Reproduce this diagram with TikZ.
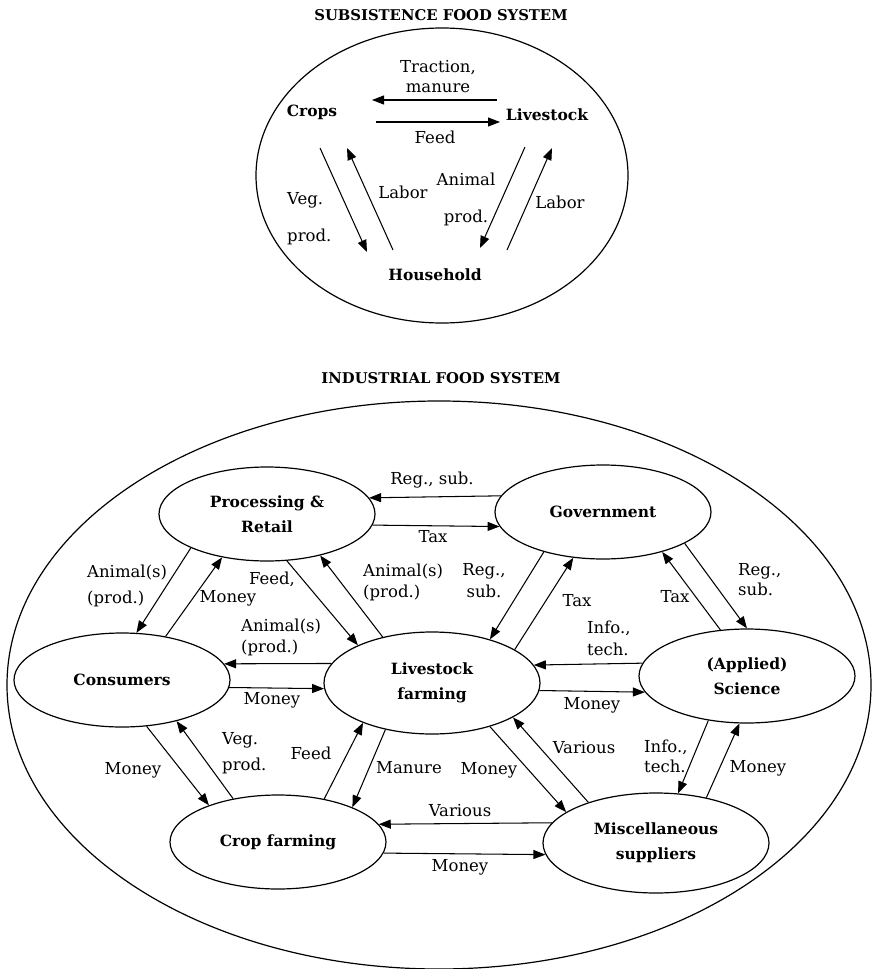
\documentclass[tikz,border=0pt]{standalone}
\usepackage{fontspec}
\setmainfont{DejaVu Serif}
\usetikzlibrary{shapes.geometric,arrows.meta}
\begin{document}
\begin{tikzpicture}[x=1pt,y=-1pt,
 lbl/.style={font=\fontsize{16.5}{20}\selectfont, inner sep=0pt},
 ttl/.style={font=\bfseries\fontsize{14.8}{17}\selectfont, inner sep=0pt},
 bn/.style={font=\bfseries\fontsize{15.5}{25}\selectfont, inner sep=0pt, align=center},
 ell/.style={ellipse, draw, line width=1.2pt, inner sep=0pt, minimum width=216pt, minimum height=94pt, bn},
 arr/.style={-{Triangle[length=12pt,width=9pt]}, line width=1.05pt},
 frame/.style={ellipse, draw, line width=1.2pt, inner sep=0pt},
]
\useasboundingbox (0,0) rectangle (872,969);

% ---------- Subsistence food system ----------
\node[ttl] (t1) at (441,15) {SUBSISTENCE FOOD SYSTEM};
\node[frame, minimum width=372pt, minimum height=295pt] (sub) at (442,175.5) {};

\node[bn] (crops) at (312,112) {Crops};
\node[bn] (lvs) at (547,115) {Livestock};
\node[bn] (hh) at (435,275) {Household};

\coordinate (tm1) at (497,100); \coordinate (tm2) at (372,100);
\coordinate (fd1) at (376,122); \coordinate (fd2) at (500,122);
\coordinate (vg1) at (320,148); \coordinate (vg2) at (367,252);
\coordinate (lb1) at (393,250); \coordinate (lb2) at (347,148);
\coordinate (an1) at (525,147); \coordinate (an2) at (480,248);
\coordinate (lr1) at (507,250); \coordinate (lr2) at (552,148);

\draw[arr] (tm1) -- (tm2);
\draw[arr] (fd1) -- (fd2);
\draw[arr] (vg1) -- (vg2);
\draw[arr] (lb1) -- (lb2);
\draw[arr] (an1) -- (an2);
\draw[arr] (lr1) -- (lr2);

\node[lbl, align=center] at (438,77) {Traction,\\manure};
\node[lbl] at (435,137) {Feed};
\node[lbl, align=left, anchor=west] at (287,219) {Veg.\\[17pt]prod.};
\node[lbl] at (403,192) {Labor};
\node[lbl, align=center] at (466,199) {Animal\\[17pt]prod.};
\node[lbl] at (560,202) {Labor};

% ---------- Industrial food system ----------
\node[ttl] (t2) at (441,378) {INDUSTRIAL FOOD SYSTEM};
\node[frame, minimum width=864pt, minimum height=568pt] (ind) at (439,685) {};

\node[ell] (proc) at (267,514) {Processing \&\\Retail};
\node[ell] (gov) at (603,512) {Government};
\node[ell] (cons) at (122,680) {Consumers};
\node[ell, minimum height=102pt] (live) at (432,683) {Livestock\\farming};
\node[ell] (sci) at (747,676) {(Applied)\\Science};
\node[ell] (crop) at (278,842) {Crop farming};
\node[ell, minimum width=226pt, minimum height=100pt] (misc) at (656,843) {Miscellaneous\\suppliers};

\draw[arr] (gov.171.7) -- (proc.9.6);
\draw[arr] (proc.-6.5) -- (gov.-172.4);
\draw[arr] (proc.-156) -- (cons.73.3);
\draw[arr] (cons.45) -- (proc.-136.9);
\draw[arr] (proc.-67.8) -- (live.153.4);
\draw[arr] (live.137.9) -- (proc.-38.8);
\draw[arr] (live.169.1) -- (cons.9.3);
\draw[arr] (cons.-4.3) -- (live.-177.2);
\draw[arr] (gov.-146.3) -- (live.37.8);
\draw[arr] (live.22.7) -- (gov.-123.1);
\draw[arr] (sci.120.4) -- (gov.-34.3);
\draw[arr] (gov.-21.3) -- (sci.90);
\draw[arr] (sci.173.5) -- (live.10.1);
\draw[arr] (live.-4.8) -- (sci.-171.2);
\draw[arr] (cons.-62) -- (crop.152.8);
\draw[arr] (crop.136.9) -- (cons.-37.4);
\draw[arr] (crop.43.1) -- (live.-150.8);
\draw[arr] (live.-135) -- (crop.25.3);
\draw[arr] (live.-37.2) -- (misc.161.9);
\draw[arr] (misc.149.5) -- (live.-23.1);
\draw[arr] (sci.-131) -- (misc.66.8);
\draw[arr] (misc.42) -- (sci.-99.7);
\draw[arr] (misc.169.8) -- (crop.10.1);
\draw[arr] (crop.-6.5) -- (misc.-174.2);

\node[lbl] at (432,480) {Reg., sub.};
\node[lbl] at (433,537) {Tax};
\node[lbl, align=left, anchor=west] at (87,586) {Animal(s)\\[6pt](prod.)};
\node[lbl] at (228,598) {Money};
\node[lbl] at (272,579) {Feed,};
\node[lbl, align=left, anchor=west] at (363,582.5) {Animal(s)\\[1pt](prod.)};
\node[lbl, align=left, anchor=west] at (241,637.5) {Animal(s)\\[1pt](prod.)};
\node[lbl] at (272,700) {Money};
\node[lbl, align=center] at (484,581) {Reg.,\\[2pt]sub.};
\node[lbl] at (577,601) {Tax};
\node[lbl] at (675,597) {Tax};
\node[lbl, align=left, anchor=west] at (738,580) {Reg.,\\sub.};
\node[lbl, align=left, anchor=west] at (587,638) {Info.,\\[2pt]tech.};
\node[lbl] at (592,705) {Money};
\node[lbl] at (133,770) {Money};
\node[lbl, align=left, anchor=west] at (222,753) {Veg.\\[6pt]prod.};
\node[lbl] at (311,753) {Feed};
\node[lbl] at (409,768) {Manure};
\node[lbl] at (489,770) {Money};
\node[lbl] at (584,748) {Various};
\node[lbl, align=left, anchor=west] at (644,756) {Info.,\\tech.};
\node[lbl] at (758,768) {Money};
\node[lbl] at (460,811) {Various};
\node[lbl] at (460,867) {Money};
\end{tikzpicture}
\end{document}
